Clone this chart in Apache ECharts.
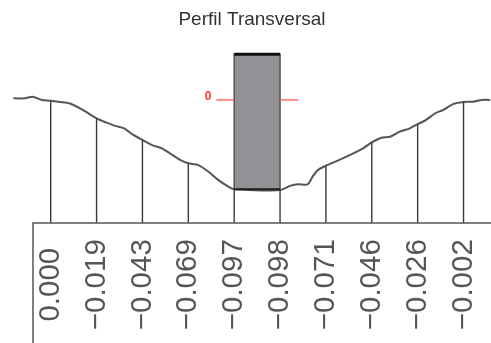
<!DOCTYPE html>
<html><head><meta charset="utf-8">
<script src="https://cdn.jsdelivr.net/npm/echarts@6/dist/echarts.min.js"></script>
<style>html,body{margin:0;padding:0;background:#fff}#c{width:491px;height:343px}</style>
</head><body><div id="c"></div>
<script>
// Stations (x in station units), their labels and terrain elevation
const stationX = [0, 1, 2, 3, 4, 5, 6, 7, 8, 9];
const stationLabels = ['0.000', '−0.019', '−0.043', '−0.069', '−0.097', '−0.098', '−0.071', '−0.046', '−0.026', '−0.002'];
const stationElev = [6.10, 5.22, 4.14, 2.97, 1.67, 1.64, 2.85, 4.02, 4.92, 6.04];

// Terrain profile
const profileX = [-0.815, -0.56, -0.40, -0.196, 0, 0.203, 0.405, 0.639, 0.82, 1.0, 1.22, 1.40, 1.60, 1.80, 2.0, 2.20, 2.42, 2.60, 2.82, 3.0, 3.21, 3.44, 3.65, 3.84, 4.0,
  5.0, 5.22, 5.40, 5.60, 5.72, 5.83, 6.0, 6.24, 6.53, 6.81, 7.0, 7.21, 7.40, 7.61, 7.83, 7.99, 8.16, 8.38, 8.56, 8.78, 9.0, 9.21, 9.40, 9.58];
const profileY = [6.22, 6.22, 6.30, 6.14, 6.10, 6.04, 5.97, 5.72, 5.47, 5.22, 5.00, 4.84, 4.72, 4.39, 4.14, 3.89, 3.72, 3.47, 3.14, 2.97, 2.89, 2.55, 2.14, 1.85, 1.67,
  1.64, 1.84, 1.92, 1.92, 2.34, 2.64, 2.85, 3.09, 3.39, 3.72, 4.02, 4.25, 4.30, 4.55, 4.72, 4.92, 5.10, 5.47, 5.64, 5.94, 6.04, 6.05, 6.14, 6.14];

// Section block
const blockX = [4.0, 5.0];
const blockY = [1.67, 8.42];

// Reference level marker
const refLevel = 6.14;
const refLabel = '0';
const refLeft = [3.61, 4.0];
const refRight = [5.0, 5.40];
const refLabelX = 3.43;

const chart = echarts.init(document.getElementById('c'), null, {renderer: 'canvas'});
const option = {
  animation: false,
  backgroundColor: '#fff',
  title: {
    text: 'Perfil Transversal',
    left: 252, top: 10, padding: 0, textAlign: 'center',
    textStyle: {fontFamily: 'Liberation Sans', fontSize: 19, fontWeight: 'normal', color: '#333'}
  },
  grid: {left: 33, right: 0, top: 22.7, bottom: 120.3, containLabel: false},
  xAxis: {
    type: 'value', min: -0.386, max: 9.599,
    axisLine: {show: true, lineStyle: {color: '#555', width: 1.5}},
    axisTick: {show: false},
    splitLine: {show: false},
    axisLabel: {
      customValues: stationX,
      formatter: v => stationLabels[stationX.indexOf(Math.round(v))] || '',
      rotate: 90, align: 'center', verticalAlign: 'middle', margin: 62,
      padding: [5, 0, 0, 0],
      fontFamily: 'Liberation Sans', fontSize: 29.5, color: '#555'
    }
  },
  yAxis: {type: 'value', min: 0, max: 10, show: false},
  graphic: [{
    type: 'line', shape: {x1: 33, y1: 222.7, x2: 33, y2: 343},
    style: {stroke: '#555', lineWidth: 1.5}
  }],
  series: [
    {
      type: 'custom', clip: false, z: 2,
      data: [[profileX.length]],
      renderItem: (params, api) => {
        const pts = profileX.map((x, i) => api.coord([x, profileY[i]]));
        return {type: 'polyline', shape: {points: pts, smooth: 0.25},
          style: {stroke: '#555', lineWidth: 2, fill: null}};
      }
    },
    {
      type: 'custom', clip: false, z: 3,
      data: stationX.map((x, i) => [x, stationElev[i]]),
      renderItem: (params, api) => {
        const p1 = api.coord([api.value(0), api.value(1)]);
        const p2 = api.coord([api.value(0), 0]);
        return {type: 'line', shape: {x1: p1[0], y1: p1[1], x2: p2[0], y2: p2[1]},
          style: {stroke: '#3a3a3a', lineWidth: 1.4}};
      }
    },
    {
      type: 'custom', clip: false, z: 4,
      data: [[blockX[0], blockY[0], blockX[1], blockY[1]]],
      renderItem: (params, api) => {
        const a = api.coord([api.value(0), api.value(1)]);
        const b = api.coord([api.value(2), api.value(3)]);
        return {type: 'group', children: [
          {type: 'rect', shape: {x: a[0], y: b[1], width: b[0] - a[0], height: a[1] - b[1]},
            style: {fill: '#929296', stroke: '#555', lineWidth: 1.5}},
          {type: 'line', shape: {x1: a[0], y1: b[1], x2: b[0], y2: b[1]}, style: {stroke: '#111', lineWidth: 3}},
          {type: 'line', shape: {x1: a[0], y1: a[1], x2: b[0], y2: a[1]}, style: {stroke: '#222', lineWidth: 2}}
        ]};
      }
    },
    {
      type: 'custom', clip: false, z: 5,
      data: [[refLevel]],
      renderItem: (params, api) => {
        const y = api.value(0);
        const l1 = api.coord([refLeft[0], y]), l2 = api.coord([refLeft[1], y]);
        const r1 = api.coord([refRight[0], y]), r2 = api.coord([refRight[1], y]);
        const t = api.coord([refLabelX, y]);
        return {type: 'group', children: [
          {type: 'line', shape: {x1: l1[0], y1: l1[1], x2: l2[0], y2: l2[1]}, style: {stroke: '#ff5555', lineWidth: 1.3}},
          {type: 'line', shape: {x1: r1[0], y1: r1[1], x2: r2[0], y2: r2[1]}, style: {stroke: '#ff5555', lineWidth: 1.3}},
          {type: 'text', x: t[0], y: t[1] - 3, style: {text: refLabel, fill: '#ff3333', font: 'bold 12px "Liberation Sans"', align: 'center', verticalAlign: 'middle'}}
        ]};
      }
    }
  ]
};
chart.setOption(option);
</script>
</body></html>
